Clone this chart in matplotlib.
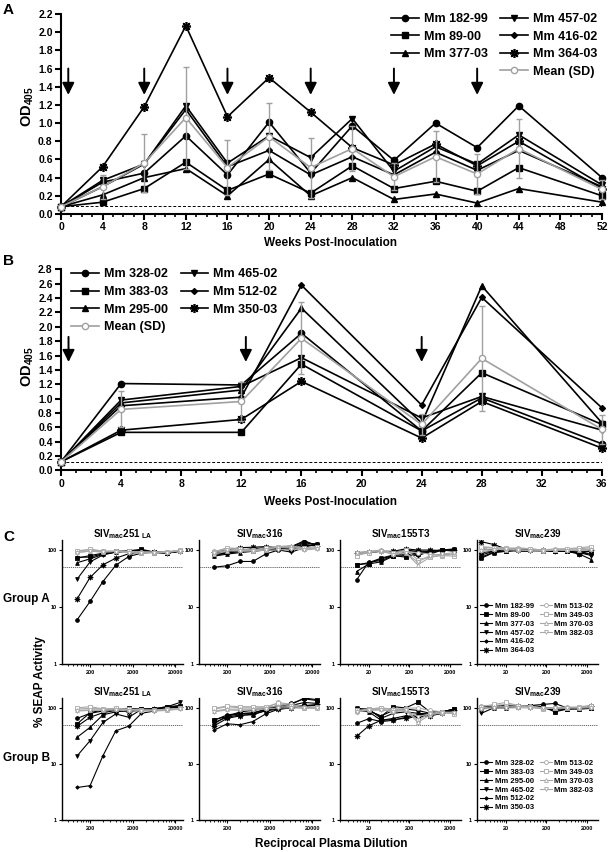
#!/bin/env python3
import matplotlib
matplotlib.use("Agg")
import matplotlib.pyplot as plt
from matplotlib.lines import Line2D
from matplotlib.ticker import MultipleLocator, NullLocator, NullFormatter, FormatStrFormatter

plt.rcParams["font.family"] = "Liberation Sans"
plt.rcParams["font.weight"] = "bold"
plt.rcParams["mathtext.fontset"] = "custom"
plt.rcParams["mathtext.rm"] = "Liberation Sans:bold"
plt.rcParams["mathtext.it"] = "Liberation Sans:bold"
plt.rcParams["mathtext.bf"] = "Liberation Sans:bold"
plt.rcParams["mathtext.default"] = "rm"

# ---------------- panel A : group A time course
weeks_a = [0, 4, 8, 12, 16, 20, 24, 28, 32, 36, 40, 44, 52]
names_a = ["Mm 182-99", "Mm 89-00", "Mm 377-03", "Mm 457-02", "Mm 416-02", "Mm 364-03"]
mm_182_99 = [0.08, 0.35, 0.45, 0.86, 0.43, 1.01, 0.45, 0.97, 0.59, 1.00, 0.73, 1.19, 0.40]
mm_89_00 = [0.08, 0.13, 0.28, 0.57, 0.26, 0.44, 0.23, 0.53, 0.28, 0.36, 0.25, 0.51, 0.20]
mm_377_03 = [0.08, 0.21, 0.40, 0.50, 0.20, 0.60, 0.20, 0.40, 0.16, 0.22, 0.12, 0.28, 0.13]
mm_457_02 = [0.08, 0.37, 0.55, 1.19, 0.56, 0.86, 0.62, 1.05, 0.47, 0.74, 0.55, 0.87, 0.32]
mm_416_02 = [0.08, 0.30, 0.55, 1.15, 0.52, 0.70, 0.43, 0.63, 0.43, 0.68, 0.48, 0.70, 0.30]
mm_364_03 = [0.08, 0.52, 1.18, 2.07, 1.07, 1.50, 1.12, 0.73, 0.54, 0.77, 0.53, 0.80, 0.28]
mean_a = [0.08, 0.30, 0.56, 1.06, 0.51, 0.85, 0.51, 0.72, 0.41, 0.63, 0.44, 0.72, 0.27]
sd_a = [0.01, 0.13, 0.32, 0.56, 0.30, 0.37, 0.33, 0.25, 0.15, 0.28, 0.22, 0.32, 0.10]
boosts_a = [0.7, 8, 16, 24, 32, 40]
cutoff_a = 0.085

# ---------------- panel B : group B time course
weeks_b = [0, 4, 12, 16, 24, 28, 36]
names_b = ["Mm 328-02", "Mm 383-03", "Mm 295-00", "Mm 465-02", "Mm 512-02", "Mm 350-03"]
mm_328_02 = [0.12, 1.21, 1.19, 1.91, 0.55, 1.01, 0.37]
mm_383_03 = [0.12, 0.53, 0.53, 1.48, 0.55, 1.36, 0.64]
mm_295_00 = [0.12, 0.94, 1.12, 2.26, 0.66, 2.57, 0.66]
mm_465_02 = [0.12, 0.98, 1.17, 1.57, 0.73, 1.03, 0.56]
mm_512_02 = [0.12, 0.90, 1.02, 2.58, 0.91, 2.41, 0.87]
mm_350_03 = [0.12, 0.56, 0.71, 1.24, 0.45, 0.96, 0.31]
mean_b = [0.12, 0.85, 0.96, 1.84, 0.64, 1.56, 0.57]
sd_b = [0.02, 0.25, 0.27, 0.50, 0.15, 0.73, 0.20]
boosts_b = [0.5, 12.3, 24]
cutoff_b = 0.12

# ---------------- panel C : neutralization, % SEAP activity
controls = ["Mm 513-02", "Mm 349-03", "Mm 370-03", "Mm 382-03"]
dil_251 = [100, 200, 400, 800, 1600, 3200, 6400, 12800, 25600]
dil_316 = [100, 200, 400, 800, 1600, 3200, 6400, 12800, 25600]
dil_155 = [10, 20, 40, 80, 160, 320, 640, 1280, 2560]
dil_239 = [5, 10, 20, 40, 80, 160, 320, 640, 1280, 2560]
viruses = [r"SIV$_{mac}$251$_{\ LA}$", r"SIV$_{mac}$316", r"SIV$_{mac}$155T3", r"SIV$_{mac}$239"]

# group A (6 vaccinated then 4 controls)
a_251 = [
    [6, 12.5, 28, 54, 77, 88, 92, 90, 95],
    [72, 80, 88, 95, 97, 103, 92, 88, 96],
    [60, 70, 84, 92, 96, 100, 90, 88, 95],
    [31, 62, 82, 92, 96, 98, 92, 88, 97],
    [75, 75, 86, 92, 95, 98, 92, 90, 98],
    [14, 33, 55, 72, 86, 93, 94, 90, 96],
    [98, 100, 95, 96, 95, 93, 92, 94, 98],
    [95, 104, 96, 95, 95, 90, 90, 92, 100],
    [92, 95, 93, 95, 93, 92, 92, 92, 98],
    [90, 96, 92, 94, 90, 88, 90, 90, 97],
]
a_316 = [
    [50, 53, 63, 63, 85, 100, 112, 140, 120],
    [88, 92, 100, 105, 108, 110, 105, 135, 125],
    [78, 85, 90, 95, 100, 105, 100, 120, 120],
    [85, 88, 95, 100, 100, 100, 92, 110, 130],
    [80, 88, 95, 105, 110, 105, 110, 125, 130],
    [92, 100, 110, 112, 115, 110, 115, 145, 120],
    [95, 105, 100, 100, 105, 110, 110, 105, 110],
    [92, 110, 105, 100, 110, 115, 115, 110, 115],
    [85, 95, 100, 95, 100, 115, 120, 105, 110],
    [90, 100, 95, 98, 100, 100, 105, 100, 105],
]
a_155 = [
    [30, 62, 65, 80, 92, 95, 85, 100, 100],
    [55, 58, 70, 80, 75, 85, 90, 100, 102],
    [42, 57, 62, 78, 80, 90, 95, 100, 100],
    [55, 60, 72, 82, 85, 80, 95, 100, 105],
    [88, 90, 95, 90, 100, 95, 95, 100, 95],
    [90, 92, 95, 95, 105, 100, 100, 98, 100],
    [85, 92, 100, 90, 95, 90, 85, 80, 85],
    [80, 90, 95, 88, 100, 68, 75, 80, 78],
    [90, 95, 100, 85, 90, 55, 75, 82, 85],
    [88, 92, 98, 82, 88, 62, 80, 85, 90],
]
a_239 = [
    [90, 95, 95, 100, 100, 95, 95, 95, 90, 85],
    [75, 92, 95, 100, 100, 98, 95, 95, 90, 95],
    [72, 90, 95, 100, 100, 95, 95, 95, 85, 68],
    [82, 95, 100, 95, 95, 100, 95, 95, 90, 80],
    [105, 100, 100, 100, 100, 100, 95, 100, 95, 95],
    [140, 125, 105, 105, 100, 100, 95, 100, 85, 100],
    [110, 110, 105, 110, 105, 100, 105, 105, 105, 110],
    [115, 110, 110, 105, 105, 100, 100, 105, 110, 115],
    [100, 105, 100, 100, 100, 98, 100, 100, 100, 105],
    [95, 100, 105, 100, 98, 95, 100, 98, 100, 100],
]
# group B
b_251 = [
    [65, 80, 88, 92, 90, 95, 95, 100, 105],
    [52, 82, 92, 96, 98, 95, 97, 105, 110],
    [30, 45, 75, 85, 90, 95, 92, 100, 110],
    [14, 26, 55, 78, 68, 94, 96, 105, 125],
    [3.8, 4.1, 14, 39, 47, 80, 88, 95, 105],
    [47, 68, 82, 90, 85, 92, 95, 100, 102],
    [95, 98, 95, 97, 95, 92, 92, 95, 98],
    [100, 105, 96, 98, 95, 92, 90, 95, 98],
    [90, 92, 92, 95, 92, 90, 90, 92, 98],
    [88, 90, 90, 92, 88, 88, 88, 90, 95],
]
b_316 = [
    [60, 75, 80, 80, 95, 105, 120, 145, 135],
    [62, 70, 85, 90, 98, 110, 115, 150, 140],
    [55, 68, 75, 75, 90, 100, 110, 125, 120],
    [52, 72, 78, 82, 92, 100, 105, 110, 110],
    [40, 52, 50, 57, 78, 95, 100, 105, 100],
    [48, 65, 72, 78, 88, 95, 100, 110, 115],
    [95, 105, 100, 100, 100, 125, 115, 105, 100],
    [98, 108, 105, 105, 105, 120, 110, 100, 105],
    [88, 95, 95, 95, 100, 110, 105, 100, 100],
    [85, 92, 90, 92, 95, 100, 100, 98, 98],
]
b_155 = [
    [53, 64, 57, 60, 68, 75, 78, 85, 95],
    [95, 90, 70, 105, 100, 125, 85, 85, 95],
    [90, 85, 60, 65, 72, 70, 75, 80, 90],
    [98, 95, 65, 80, 85, 80, 78, 85, 95],
    [88, 88, 72, 90, 95, 90, 80, 85, 95],
    [31, 48, 60, 62, 65, 70, 72, 80, 90],
    [85, 95, 100, 95, 98, 100, 90, 85, 80],
    [90, 95, 100, 92, 95, 60, 80, 85, 78],
    [88, 92, 95, 88, 92, 55, 75, 82, 85],
    [85, 90, 92, 85, 90, 70, 78, 80, 80],
]
b_239 = [
    [100, 105, 105, 110, 110, 115, 120, 100, 100, 100],
    [105, 108, 110, 110, 108, 105, 85, 95, 95, 98],
    [110, 100, 100, 105, 110, 100, 90, 95, 100, 100],
    [80, 100, 105, 110, 108, 105, 95, 100, 100, 105],
    [95, 105, 105, 110, 110, 100, 100, 100, 100, 100],
    [100, 105, 110, 110, 105, 100, 95, 100, 100, 110],
    [110, 110, 115, 110, 108, 100, 100, 105, 100, 110],
    [105, 115, 125, 110, 105, 95, 100, 100, 105, 110],
    [100, 105, 105, 105, 105, 100, 100, 100, 100, 105],
    [95, 100, 100, 100, 100, 98, 98, 100, 100, 100],
]

W, H = 608, 852
fig = plt.figure(figsize=(W / 100, H / 100), dpi=100)


def px_axes(x0, y_top, x1, y_bot):
    return fig.add_axes([x0 / W, 1 - y_bot / H, (x1 - x0) / W, (y_bot - y_top) / H])


grey_mean = "#a0a0a0"
grey_ctrl = "#a8a8a8"
asterisk = (8, 2, 0)
black_styles = [("o", 4.5, 1), ("s", 4.5, 1), ("^", 4.5, 1), ("v", 4.5, 1), ("D", 3, 1), (asterisk, 6.5, 1.2)]
ctrl_markers = ["o", "s", "^", "v"]


def draw_course(ax, weeks, series, names, mean, sd, boosts, arrow_top, arrow_tip, cutoff):
    handles = []
    for vals, (m, ms, mew), name in zip(series, black_styles, names):
        h, = ax.plot(weeks, vals, color="k", lw=1.2, marker=m, ms=ms, mfc="k", mec="k",
                     mew=mew, clip_on=False, zorder=3, label=name)
        handles.append(h)
    ax.errorbar(weeks, mean, yerr=sd, color=grey_mean, lw=1.2, marker="o", ms=4.5,
                mfc="white", mec=grey_mean, mew=1, capsize=2.5, elinewidth=1,
                capthick=1, zorder=4, clip_on=False)
    mean_h = Line2D([], [], color=grey_mean, lw=1.2, marker="o", ms=4.5, mfc="white",
                    mec=grey_mean, mew=1)
    for b in boosts:
        ax.annotate("", xy=(b, arrow_tip), xytext=(b, arrow_top),
                    arrowprops=dict(arrowstyle="-|>,head_length=0.8,head_width=0.4",
                                    color="k", lw=1.4, mutation_scale=9,
                                    shrinkA=0, shrinkB=0))
    ax.axhline(cutoff, color="k", lw=0.7, ls=(0, (3, 2)), zorder=1)
    for s in ("top", "right"):
        ax.spines[s].set_visible(False)
    for s in ("left", "bottom"):
        ax.spines[s].set_linewidth(1.5)
    ax.xaxis.set_major_locator(MultipleLocator(4))
    ax.xaxis.set_minor_locator(MultipleLocator(1))
    ax.yaxis.set_major_locator(MultipleLocator(0.2))
    ax.yaxis.set_major_formatter(FormatStrFormatter("%.1f"))
    ax.tick_params(which="major", direction="out", length=4, width=1.5, labelsize=7.5, pad=2)
    ax.tick_params(which="minor", direction="out", length=2.5, width=1.2)
    return handles, mean_h


blank = Line2D([], [], linestyle="none")

# ---- A
axA = px_axes(61, 14, 602, 214)
axA.set_xlim(0, 52)
axA.set_ylim(0, 2.2)
hA, mA = draw_course(axA, weeks_a, [mm_182_99, mm_89_00, mm_377_03, mm_457_02, mm_416_02, mm_364_03],
                     names_a, mean_a, sd_a, boosts_a, 1.60, 1.31, cutoff_a)
axA.legend(hA[:3] + [blank] + hA[3:] + [mA],
           names_a[:3] + [""] + names_a[3:] + ["Mean (SD)"],
           loc="upper right", bbox_to_anchor=(1.0, 1.03), ncol=2, frameon=False,
           fontsize=9, handlelength=2.2, handletextpad=0.4, columnspacing=1.0,
           labelspacing=0.45, borderaxespad=0)

# ---- B
axB = px_axes(61, 269.4, 602, 470.4)
axB.set_xlim(0, 36)
axB.set_ylim(0, 2.8)
hB, mB = draw_course(axB, weeks_b, [mm_328_02, mm_383_03, mm_295_00, mm_465_02, mm_512_02, mm_350_03],
                     names_b, mean_b, sd_b, boosts_b, 1.86, 1.51, cutoff_b)
axB.legend(hB[:3] + [mB] + hB[3:] + [blank],
           names_b[:3] + ["Mean (SD)"] + names_b[3:] + [""],
           loc="upper left", bbox_to_anchor=(0.01, 1.03), ncol=2, frameon=False,
           fontsize=9, handlelength=2.2, handletextpad=0.4, columnspacing=1.0,
           labelspacing=0.45, borderaxespad=0)

for y in (243, 502):
    fig.text(331 / W, 1 - y / H, "Weeks Post-Inoculation", ha="center", va="center", fontsize=8.5)
fig.text(28 / W, 1 - 107 / H, "OD$_{405}$", rotation=90, ha="center", va="center", fontsize=10.5)
fig.text(28 / W, 1 - 367 / H, "OD$_{405}$", rotation=90, ha="center", va="center", fontsize=10.5)

fig.text(3 / W, 1 - 3 / H, "A", fontsize=11, va="top", ha="left")
fig.text(3 / W, 1 - 254 / H, "B", fontsize=11, va="top", ha="left")
fig.text(3 / W, 1 - 530 / H, "C", fontsize=11, va="top", ha="left")

# ---- C
col_left = [62, 199, 340, 477]
col_w = 121
rows = [(540, 664), (698, 820)]
dils = [dil_251, dil_316, dil_155, dil_239]
xlims = [(44, 30000), (44, 30000), (3.9, 3700), (3.9, 3700)]
major_ticks = [[200, 2000, 20000], [200, 2000, 20000], [20, 200, 2000], [20, 200, 2000]]
grid_data = [[a_251, a_316, a_155, a_239], [b_251, b_316, b_155, b_239]]
animal_names = [names_a, names_b]

for r, (top, bot) in enumerate(rows):
    for c in range(4):
        ax = px_axes(col_left[c], top, col_left[c] + col_w, bot)
        data = grid_data[r][c]
        lines = []
        for vals, (m, ms, mew) in zip(data[:6], black_styles):
            h, = ax.plot(dils[c], vals, color="k", lw=0.8, marker=m, ms=ms * 0.6,
                         mfc="k", mec="k", mew=mew * 0.6, zorder=3)
            lines.append(h)
        for vals, m in zip(data[6:], ctrl_markers):
            h, = ax.plot(dils[c], vals, color=grey_ctrl, lw=0.8, marker=m, ms=2.8,
                         mfc="white", mec=grey_ctrl, mew=0.6, zorder=4)
            lines.append(h)
        ax.set_xscale("log")
        ax.set_yscale("log")
        ax.set_xlim(*xlims[c])
        ax.set_ylim(1, 150)
        ax.axhline(50, color="#555555", lw=0.6, ls=(0, (1.5, 1)), zorder=1)
        mj = major_ticks[c]
        ax.set_xticks(mj)
        ax.set_xticklabels([str(t) for t in mj])
        minors = [b * k for b in (mj[0] / 10, mj[0], mj[1], mj[2]) for k in range(2, 10)]
        minors = [t for t in minors if xlims[c][0] < t < xlims[c][1]]
        ax.set_xticks(minors, minor=True)
        ax.xaxis.set_minor_formatter(NullFormatter())
        ax.set_yticks([1, 10, 100])
        ax.set_yticklabels(["1", "10", "100"])
        ax.yaxis.set_minor_locator(NullLocator())
        ax.yaxis.set_minor_formatter(NullFormatter())
        for s in ("top", "right"):
            ax.spines[s].set_visible(False)
        for s in ("left", "bottom"):
            ax.spines[s].set_linewidth(1.0)
        ax.tick_params(which="major", direction="out", length=2.5, width=0.8, labelsize=4, pad=1.5)
        ax.tick_params(which="minor", direction="out", length=1.5, width=0.6)
        fig.text((col_left[c] + col_w / 2) / W, 1 - (top - 6) / H, viruses[c],
                 ha="center", va="center", fontsize=7)
        if c == 3:
            ax.legend(lines[:6] + lines[6:] + [blank, blank],
                      animal_names[r] + controls + ["", ""],
                      loc="upper left", bbox_to_anchor=(0.0, 0.52), ncol=2, frameon=False,
                      fontsize=5.5, handlelength=1.6, handletextpad=0.3,
                      columnspacing=0.8, labelspacing=0.2, borderaxespad=0)

fig.text(3 / W, 1 - 599 / H, "Group A", ha="left", va="center", fontsize=8.5)
fig.text(3 / W, 1 - 758 / H, "Group B", ha="left", va="center", fontsize=8.5)
fig.text(40 / W, 1 - 682 / H, "% SEAP Activity", rotation=90, ha="center", va="center", fontsize=8.5)
fig.text(331 / W, 1 - 844 / H, "Reciprocal Plasma Dilution", ha="center", va="center", fontsize=8.5)

fig.savefig("out.png", dpi=100)
